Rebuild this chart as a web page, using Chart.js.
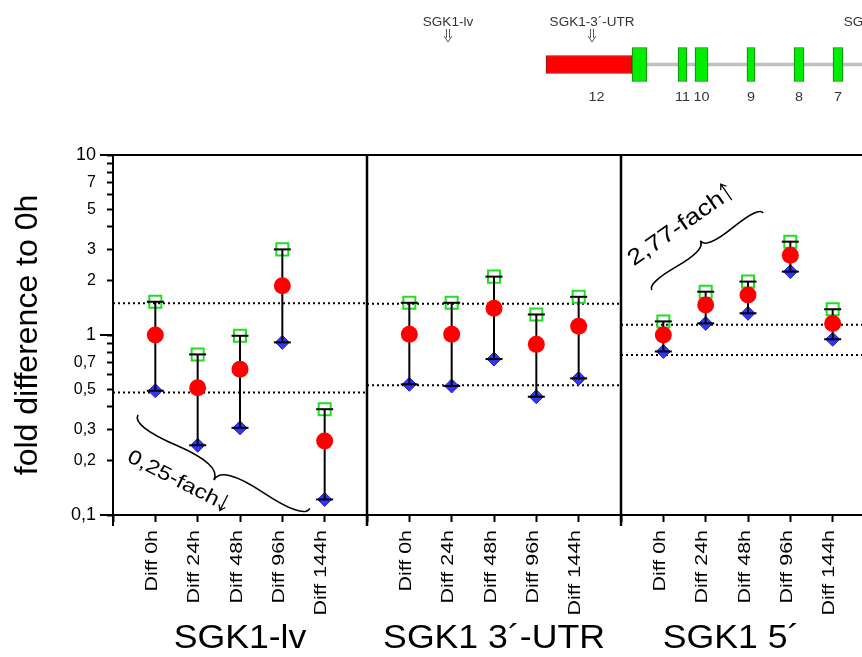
<!DOCTYPE html>
<html>
<head>
<meta charset="utf-8">
<script src="https://cdn.jsdelivr.net/npm/chart.js@4.4.1/dist/chart.umd.min.js"></script>
<style>
  html, body { margin: 0; padding: 0; background: #fff; overflow: hidden; }
  #wrap { position: relative; width: 862px; height: 657px; overflow: hidden; background: #fff; }
  #main { position: absolute; left: 0; top: 0; }
  #gene { position: absolute; left: 400px; top: 0; }
</style>
</head>
<body>
<div id="wrap">
  <canvas id="main" width="900" height="657"></canvas>
  <canvas id="gene" width="462" height="110"></canvas>
</div>
<script>
// values
var categories = ['Diff 0h', 'Diff 24h', 'Diff 48h', 'Diff 96h', 'Diff 144h'];
var panelTitles = ['SGK1-lv', 'SGK1 3´-UTR', 'SGK1 5´'];

var lvMean = [1.0, 0.51, 0.645, 1.88, 0.258];
var lvMax = [1.53, 0.78, 0.99, 2.99, 0.387];
var lvMin = [0.49, 0.244, 0.305, 0.91, 0.122];
var lvLimits = [1.5, 0.48];

var utrMean = [1.01, 1.01, 1.41, 0.887, 1.12];
var utrMax = [1.51, 1.51, 2.11, 1.30, 1.63];
var utrMin = [0.532, 0.521, 0.735, 0.454, 0.574];
var utrLimits = [1.49, 0.525];

var p5Mean = [1.0, 1.47, 1.67, 2.77, 1.16];
var p5Max = [1.19, 1.74, 1.98, 3.30, 1.39];
var p5Min = [0.81, 1.16, 1.32, 2.25, 0.947];
var p5Limits = [1.14, 0.774];

var yTickValues = [0.1, 0.2, 0.3, 0.4, 0.5, 0.6, 0.7, 0.8, 0.9, 1, 2, 3, 4, 5, 6, 7, 8, 9, 10];
var yTickLabels = ['0,1', '0,2', '0,3', '', '0,5', '', '0,7', '', '', '1', '2', '3', '', '5', '', '7', '', '', '10'];
var yMajor = [0.1, 1, 10];

// gene map (arbitrary map units)
var utrSpan = [146, 232];
var exonStart = [232, 278, 295, 347, 394, 433];
var exonEnd = [247, 287, 308, 355, 404, 443];
var exonNames = ['12', '11', '10', '9', '8', '7'];
var intronSpan = [247, 480];
var probeNames = ['SGK1-lv', 'SGK1-3´-UTR', 'SGK1-5´'];
var probePos = [48, 192, 470];

var FONT = '"Liberation Sans", Arial, sans-serif';
var PANEL = 6;

var panels = [
  { mean: lvMean, max: lvMax, min: lvMin, limits: lvLimits },
  { mean: utrMean, max: utrMax, min: utrMin, limits: utrLimits },
  { mean: p5Mean, max: p5Max, min: p5Min, limits: p5Limits }
];

// annotation layout (data coords of the panel chart)
var titleX = [3, 9, 14.6];
var notes = [
  { text: '0,25-fach', dir: 1, x: 0.31, y: 0.2, angle: 27, size: 20 },
  { text: '2,77-fach', dir: -1, x: 12.3, y: 2.4, angle: -35, size: 22.5 }
];
var braces = [
  { from: [0.59, 0.36], to: [4.65, 0.109], depth: 21 },
  { from: [12.73, 1.78], to: [15.36, 4.76], depth: -13 }
];

var meanPts = [], maxPts = [], minPts = [], rangePts = [], limitPts = [];
var xTicks = [], xLabels = {};

panels.forEach(function (p, pi) {
  xTicks.push(pi * PANEL);
  categories.forEach(function (c, i) {
    var x = pi * PANEL + i + 1;
    xTicks.push(x);
    xLabels[x] = c;
    meanPts.push({ x: x, y: p.mean[i] });
    maxPts.push({ x: x, y: p.max[i] });
    minPts.push({ x: x, y: p.min[i] });
    rangePts.push({ x: x, y: p.min[i] }, { x: x, y: p.max[i] }, { x: x, y: null });
  });
  p.limits.forEach(function (v) {
    limitPts.push({ x: pi * PANEL, y: v }, { x: pi * PANEL + PANEL, y: v }, { x: pi * PANEL + PANEL, y: null });
  });
});
xTicks.push(3 * PANEL);

function stretchedText(ctx, text, x, y, angle, font, stretch, align) {
  ctx.save();
  ctx.translate(x, y);
  ctx.rotate(angle);
  ctx.scale(stretch, 1);
  ctx.font = font;
  ctx.textAlign = align;
  ctx.textBaseline = 'alphabetic';
  ctx.fillStyle = '#000';
  ctx.fillText(text, 0, 0);
  var w = ctx.measureText(text).width;
  ctx.restore();
  return w * stretch;
}

// thin arrow in the text's own frame; dir 1 = down, -1 = up
function textArrow(ctx, x, y, angle, size, dir) {
  var top = -size * 0.78, bottom = size * 0.08;
  var tip = dir > 0 ? bottom : top;
  var tail = dir > 0 ? top : bottom;
  ctx.save();
  ctx.translate(x, y);
  ctx.rotate(angle);
  ctx.strokeStyle = '#000';
  ctx.lineWidth = 1.3;
  ctx.beginPath();
  ctx.moveTo(0, tail);
  ctx.lineTo(0, tip);
  ctx.moveTo(-3.5, tip - dir * 5);
  ctx.lineTo(0, tip);
  ctx.lineTo(3.5, tip - dir * 5);
  ctx.stroke();
  ctx.restore();
}

function drawBrace(ctx, x1, y1, x2, y2, w, q) {
  var dx = x1 - x2, dy = y1 - y2;
  var len = Math.sqrt(dx * dx + dy * dy);
  dx /= len; dy /= len;
  var qx1 = x1 + q * w * dy, qy1 = y1 - q * w * dx;
  var qx2 = (x1 - 0.25 * len * dx) + (1 - q) * w * dy, qy2 = (y1 - 0.25 * len * dy) - (1 - q) * w * dx;
  var tx = (x1 - 0.5 * len * dx) + w * dy, ty = (y1 - 0.5 * len * dy) - w * dx;
  var qx3 = x2 + q * w * dy, qy3 = y2 - q * w * dx;
  var qx4 = (x1 - 0.75 * len * dx) + (1 - q) * w * dy, qy4 = (y1 - 0.75 * len * dy) - (1 - q) * w * dx;
  ctx.beginPath();
  ctx.moveTo(x1, y1);
  ctx.quadraticCurveTo(qx1, qy1, qx2, qy2);
  ctx.quadraticCurveTo(2 * qx2 - qx1, 2 * qy2 - qy1, tx, ty);
  ctx.moveTo(x2, y2);
  ctx.quadraticCurveTo(qx3, qy3, qx4, qy4);
  ctx.quadraticCurveTo(2 * qx4 - qx3, 2 * qy4 - qy3, tx, ty);
  ctx.stroke();
}

var frameAndText = {
  id: 'frameAndText',
  afterDraw: function (chart) {
    var ctx = chart.ctx;
    var a = chart.chartArea;
    var xs = chart.scales.x, ys = chart.scales.y;

    ctx.save();
    ctx.strokeStyle = '#000';
    ctx.lineWidth = 2;
    ctx.strokeRect(a.left, a.top, a.right - a.left, a.bottom - a.top);

    // panel separators + long boundary ticks
    ctx.lineWidth = 2.5;
    [PANEL, 2 * PANEL].forEach(function (v) {
      var px = xs.getPixelForValue(v);
      ctx.beginPath();
      ctx.moveTo(px, a.top);
      ctx.lineTo(px, a.bottom + 11);
      ctx.stroke();
    });
    ctx.lineWidth = 2;
    ctx.beginPath();
    ctx.moveTo(a.left, a.bottom);
    ctx.lineTo(a.left, a.bottom + 11);
    yMajor.forEach(function (v) {
      var py = ys.getPixelForValue(v);
      ctx.moveTo(a.left - 13, py);
      ctx.lineTo(a.left, py);
    });
    ctx.stroke();

    // category labels
    xTicks.forEach(function (v) {
      if (!xLabels[v]) return;
      stretchedText(ctx, xLabels[v], xs.getPixelForValue(v) + 1.5, a.bottom + 15, -Math.PI / 2,
        '16.5px ' + FONT, 1.3, 'right');
    });

    panelTitles.forEach(function (t, i) {
      stretchedText(ctx, t, xs.getPixelForValue(titleX[i]), 648, 0, '33px ' + FONT, 1.08, 'center');
    });

    notes.forEach(function (n) {
      var px = xs.getPixelForValue(n.x), py = ys.getPixelForValue(n.y);
      var ang = n.angle * Math.PI / 180;
      var w = stretchedText(ctx, n.text, px, py, ang, n.size + 'px ' + FONT, 1.2, 'left') + 6;
      textArrow(ctx, px + Math.cos(ang) * w, py + Math.sin(ang) * w, ang, n.size, n.dir);
    });

    ctx.lineWidth = 1.6;
    braces.forEach(function (b) {
      drawBrace(ctx,
        xs.getPixelForValue(b.from[0]), ys.getPixelForValue(b.from[1]),
        xs.getPixelForValue(b.to[0]), ys.getPixelForValue(b.to[1]),
        b.depth, 0.6);
    });
    ctx.restore();
  }
};

new Chart(document.getElementById('main'), {
  type: 'scatter',
  data: {
    datasets: [
      { label: 'mean', data: meanPts, pointStyle: 'circle', pointRadius: 8.5, pointBackgroundColor: '#ff0000',
        pointBorderWidth: 0, showLine: false, order: 0 },
      { label: 'caps', data: minPts.concat(maxPts), pointStyle: 'line', pointRadius: 8.5, pointBorderColor: '#000',
        pointBorderWidth: 2, showLine: false, order: 1 },
      { label: 'range', type: 'line', data: rangePts, borderColor: '#000', borderWidth: 2, pointRadius: 0,
        spanGaps: false, order: 2 },
      { label: 'min', data: minPts, pointStyle: 'rectRot', pointRadius: 7, pointBackgroundColor: '#3333ff',
        pointBorderColor: '#2222bb', pointBorderWidth: 1, showLine: false, order: 3 },
      { label: 'max', data: maxPts, pointStyle: 'rect', pointRadius: 8.5, pointBackgroundColor: 'rgba(0,0,0,0)',
        pointBorderColor: '#22dd22', pointBorderWidth: 2, showLine: false, order: 4 },
      { label: 'limits', type: 'line', data: limitPts, borderColor: '#000', borderWidth: 2, borderDash: [2, 3],
        pointRadius: 0, spanGaps: false, order: 5 }
    ]
  },
  options: {
    responsive: false,
    animation: false,
    events: [],
    layout: { padding: { top: 155, right: 25, left: 0, bottom: 0 } },
    plugins: { legend: { display: false }, tooltip: { enabled: false } },
    scales: {
      x: {
        type: 'linear', min: 0, max: 3 * PANEL, offset: false,
        afterBuildTicks: function (scale) {
          scale.ticks = xTicks.map(function (v) { return { value: v }; });
        },
        afterFit: function (scale) { scale.height = 142; },
        ticks: { display: false },
        grid: { offset: false, drawOnChartArea: false, tickLength: 7, tickColor: '#000', tickWidth: 2 },
        border: { display: false }
      },
      y: {
        type: 'logarithmic', min: 0.1, max: 10,
        afterBuildTicks: function (scale) {
          scale.ticks = yTickValues.map(function (v) { return { value: v }; });
        },
        afterFit: function (scale) { scale.width = 113; },
        ticks: {
          autoSkip: false,
          color: '#000',
          padding: 11,
          font: function (c) {
            var major = c.tick && yMajor.indexOf(c.tick.value) >= 0;
            return { family: FONT, size: major ? 18 : 16 };
          },
          callback: function (v, i) { return yTickLabels[i]; }
        },
        grid: { drawOnChartArea: false, tickLength: 6, tickColor: '#000', tickWidth: 2 },
        border: { display: false },
        title: {
          display: true,
          text: 'fold difference to 0h',
          color: '#000',
          font: { family: FONT, size: 32 },
          padding: { top: 9 }
        }
      }
    }
  },
  plugins: [frameAndText]
});

var geneLabels = {
  id: 'geneLabels',
  afterDraw: function (chart) {
    var ctx = chart.ctx;
    var xs = chart.scales.x;
    ctx.save();
    ctx.fillStyle = '#333';
    exonNames.forEach(function (n, i) {
      var from = i === 0 ? utrSpan[0] : exonStart[i];
      var cx = xs.getPixelForValue((from + exonEnd[i]) / 2);
      ctx.save();
      ctx.translate(cx, 101);
      ctx.scale(1.2, 1);
      ctx.font = '12px ' + FONT;
      ctx.textAlign = 'center';
      ctx.fillText(n, 0, 0);
      ctx.restore();
    });
    probeNames.forEach(function (n, i) {
      var cx = xs.getPixelForValue(probePos[i]);
      ctx.save();
      ctx.translate(cx, 26);
      ctx.scale(1.08, 1);
      ctx.font = '12.5px ' + FONT;
      ctx.textAlign = 'center';
      ctx.fillText(n, 0, 0);
      ctx.restore();
      // double-stroke down arrow under each probe name
      ctx.save();
      ctx.strokeStyle = '#555';
      ctx.lineWidth = 1;
      ctx.beginPath();
      ctx.moveTo(cx - 1.5, 29);
      ctx.lineTo(cx - 1.5, 38);
      ctx.moveTo(cx + 1.5, 29);
      ctx.lineTo(cx + 1.5, 38);
      ctx.moveTo(cx - 4, 36);
      ctx.lineTo(cx, 42);
      ctx.lineTo(cx + 4, 36);
      ctx.stroke();
      ctx.restore();
    });
    ctx.restore();
  }
};

var geneSets = [
  { data: [intronSpan], backgroundColor: '#c0c0c0', barThickness: 3, order: 3 },
  { data: [utrSpan], backgroundColor: '#ff0000', borderColor: '#8b1a1a', borderWidth: 1, barThickness: 18, order: 2 }
].concat(exonStart.map(function (s, i) {
  return { data: [[s, exonEnd[i]]], backgroundColor: '#00ee00', borderColor: '#1f6f1f', borderWidth: 1,
    barThickness: 34, order: 1 };
}));
geneSets.forEach(function (d) { d.grouped = false; d.borderSkipped = false; });

new Chart(document.getElementById('gene'), {
  type: 'bar',
  data: { labels: ['SGK1'], datasets: geneSets },
  options: {
    indexAxis: 'y',
    responsive: false,
    animation: false,
    events: [],
    layout: { padding: { top: 29, bottom: 10, left: 0, right: 0 } },
    plugins: { legend: { display: false }, tooltip: { enabled: false } },
    scales: {
      x: { type: 'linear', min: 0, max: 462, display: false },
      y: { display: false }
    }
  },
  plugins: [geneLabels]
});
</script>
</body>
</html>
